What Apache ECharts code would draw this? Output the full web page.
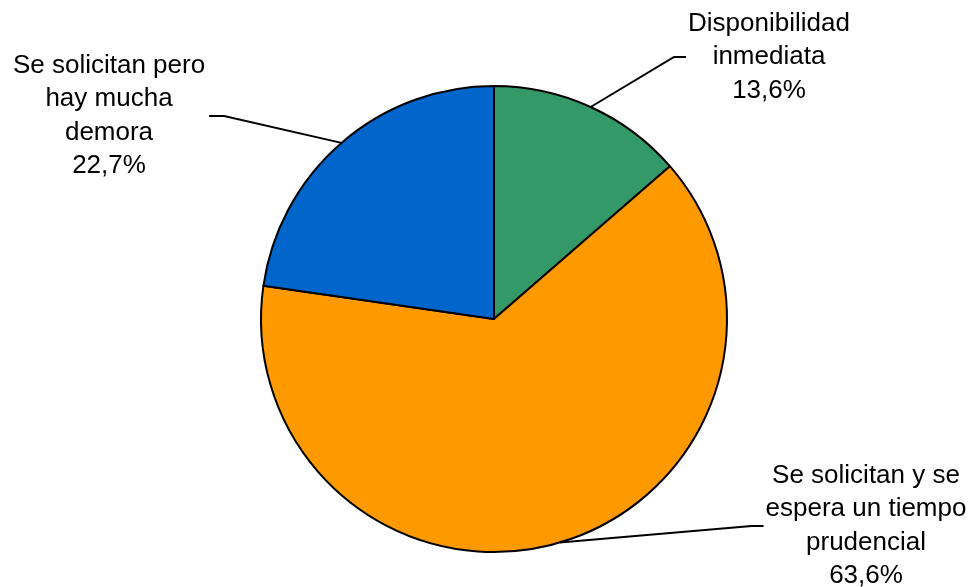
<!DOCTYPE html>
<html>
<head>
<meta charset="utf-8">
<script src="https://cdn.jsdelivr.net/npm/echarts@6/dist/echarts.min.js"></script>
<style>
  html, body { margin: 0; padding: 0; background: #ffffff; }
  #chart { width: 973px; height: 587px; }
</style>
</head>
<body>
<div id="chart"></div>
<script>
// Slice names, shares (%) and fill colours, clockwise from 12 o'clock
const categories = [
  'Disponibilidad\ninmediata',
  'Se solicitan y se\nespera un tiempo\nprudencial',
  'Se solicitan pero\nhay mucha\ndemora'
];
const shares = [13.6, 63.6, 22.7];
const sliceColors = ['#339966', '#FF9900', '#0066CC'];

// Label block centres and the side of the block the leader line joins
const labelAnchors = [
  { x: 769, y: 57, side: 'left' },
  { x: 866, y: 526, side: 'left' },
  { x: 109, y: 116, side: 'right' }
];

const chart = echarts.init(document.getElementById('chart'), null, { renderer: 'canvas' });

const fmtPct = v => v.toFixed(1).replace('.', ',') + '%';

chart.setOption({
  backgroundColor: '#ffffff',
  animation: false,
  series: [{
    type: 'pie',
    center: [494, 319],
    radius: [0, 233],
    startAngle: 90,
    clockwise: true,
    avoidLabelOverlap: false,
    data: categories.map((name, i) => ({
      name: name,
      value: shares[i],
      itemStyle: { color: sliceColors[i] }
    })),
    itemStyle: { borderColor: '#000000', borderWidth: 2 },
    emphasis: { disabled: true },
    label: {
      show: true,
      position: 'outside',
      formatter: p => p.name + '\n' + fmtPct(p.value),
      fontFamily: '"Liberation Sans", Arial, sans-serif',
      fontSize: 26,
      lineHeight: 33.5,
      color: '#000000',
      align: 'center'
    },
    labelLine: {
      show: true,
      length: 20,
      length2: 10,
      smooth: false,
      lineStyle: { color: '#000000', width: 2 }
    },
    labelLayout: function (p) {
      const a = labelAnchors[p.dataIndex];
      const w = p.labelRect.width;
      const endX = a.side === 'left' ? a.x - w / 2 - 2 : a.x + w / 2 + 4;
      const elbowX = a.side === 'left' ? endX - 12 : endX + 15;
      const out = { x: a.x, y: a.y, align: 'center', verticalAlign: 'middle' };
      if (p.labelLinePoints && p.labelLinePoints.length) {
        out.labelLinePoints = [p.labelLinePoints[0], [elbowX, a.y], [endX, a.y]];
      }
      return out;
    }
  }]
});
</script>
</body>
</html>
